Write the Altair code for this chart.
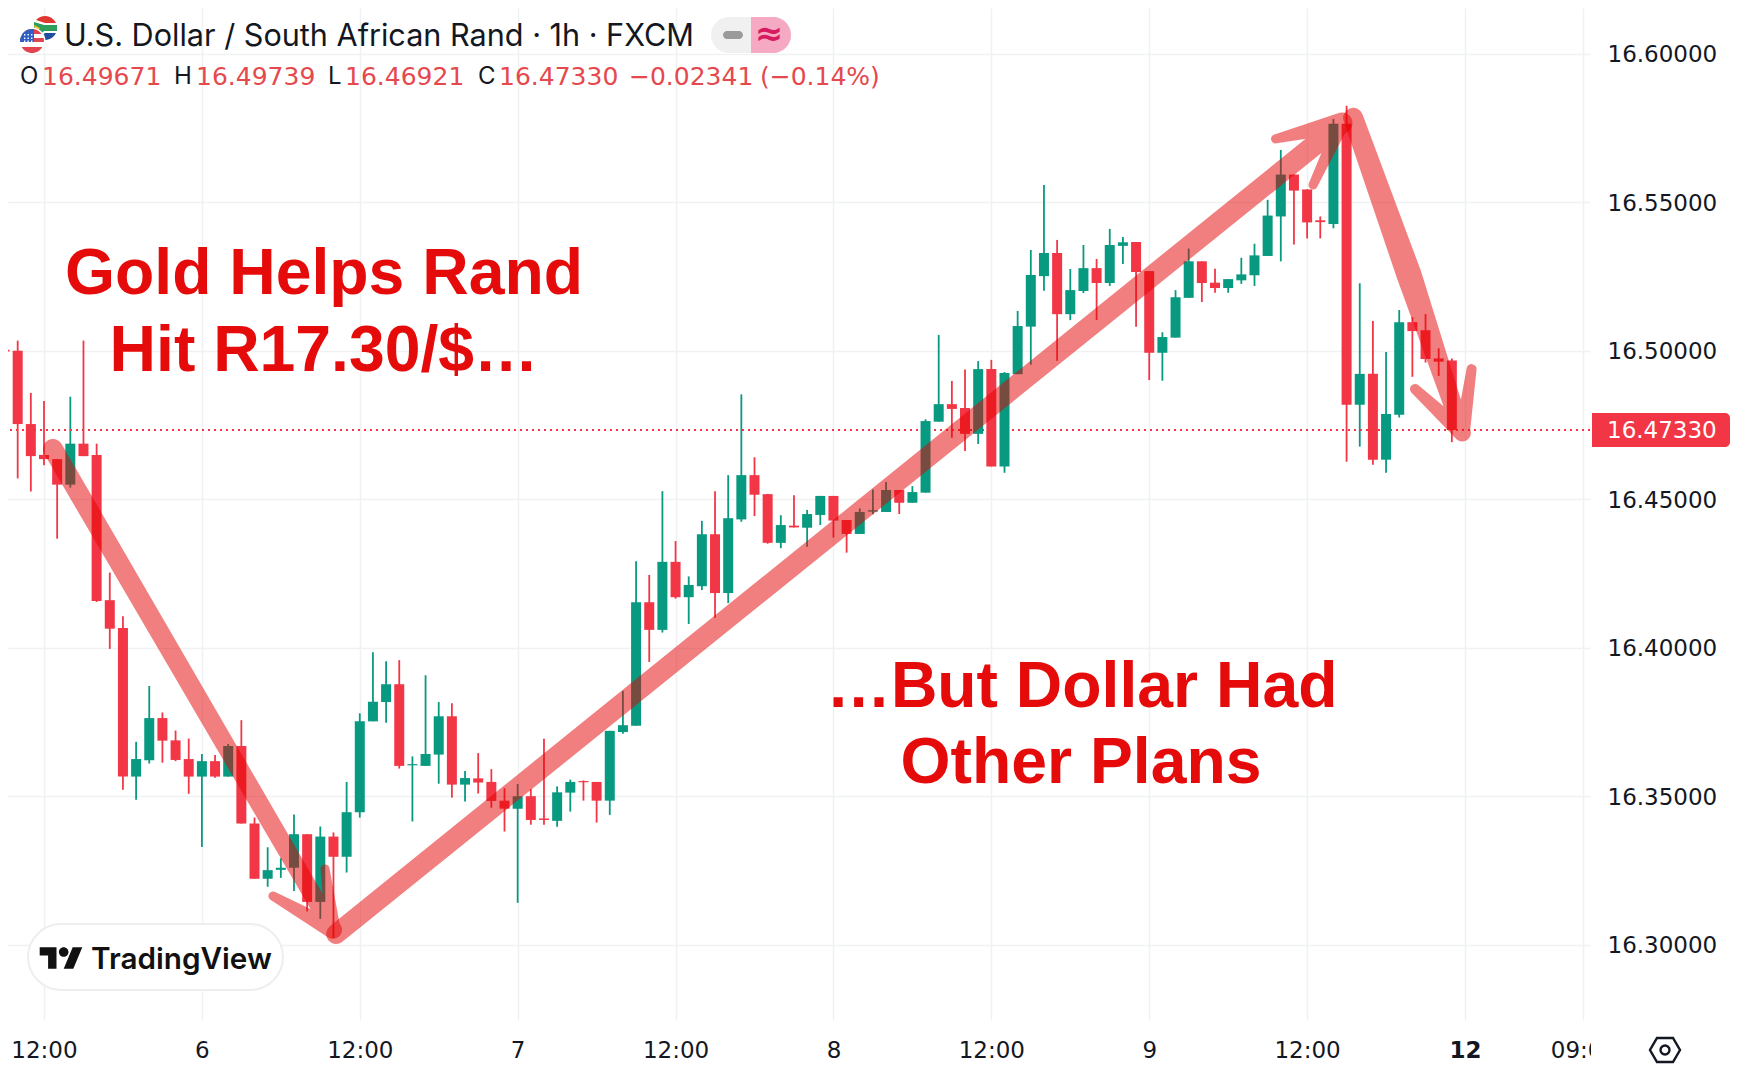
import json, math
import altair as alt
import pandas as pd

# ---------- candle values (hour index -3 .. 107) ----------
directions = ("RRRRRGRRRRGGRRRGRGRRGGGRGRGGGGR" "GGGRGRRRGRRGGRRGGGRGRGGRGGRRGRG"
              "GRRGGGRGGGRRGRGGGGRGGRGGRRGGGRRGGGGGRRRGRGRGGRRRR")
highs = [16.5076,16.5034,16.4858,16.4831,16.4635,16.4845,16.5034,16.4687,16.4253,16.4106,
         16.3683,16.3871,16.3782,16.3721,16.3694,16.3642,16.3639,16.3676,16.3756,16.3428,
         16.3328,16.3291,16.3438,16.3372,16.3398,16.3378,16.3548,16.3779,16.3985,16.3954,
         16.3958,16.3634,16.3907,16.3817,16.3813,16.3585,16.3645,16.3591,16.3527,16.3541,
         16.3524,16.3693,16.3533,16.3556,16.3553,16.3548,16.3720,16.3854,16.4291,16.4245,
         16.4527,16.4359,16.4240,16.4427,16.4527,16.4581,16.4853,16.4641,16.4518,16.4446,
         16.4513,16.4464,16.4511,16.4511,16.4430,16.4469,16.4533,16.4558,16.4531,16.4544,
         16.4769,16.5053,16.4898,16.4937,16.4965,16.4969,16.4928,16.5134,16.5339,16.5558,
         16.5373,16.5275,16.5356,16.5309,16.5410,16.5383,16.5366,16.5268,16.5062,16.5204,
         16.5344,16.5301,16.5276,16.5241,16.5313,16.5360,16.5508,16.5676,16.5593,16.5543,
         16.5452,16.5780,16.5825,16.5227,16.5100,16.4996,16.5137,16.5113,16.5123,16.5008,16.49739]
body_tops = [16.5003,16.5000,16.4753,16.4649,16.4635,16.4687,16.4687,16.4649,16.4160,16.4066,
             16.3625,16.3763,16.3763,16.3688,16.3625,16.3618,16.3618,16.3669,16.3669,16.3408,
             16.3251,16.3259,16.3372,16.3372,16.3364,16.3364,16.3446,16.3752,16.3818,16.3877,
             16.3877,16.3608,16.3642,16.3769,16.3769,16.3561,16.3560,16.3548,16.3485,16.3500,
             16.3500,16.3425,16.3513,16.3548,16.3551,16.3548,16.3720,16.3739,16.4153,16.4153,
             16.4289,16.4289,16.4211,16.4382,16.4382,16.4436,16.4581,16.4581,16.4517,16.4413,
             16.4411,16.4450,16.4511,16.4511,16.4430,16.4457,16.4463,16.4531,16.4531,16.4524,
             16.4763,16.4820,16.4820,16.4807,16.4938,16.4938,16.4925,16.5083,16.5255,16.5329,
             16.5329,16.5204,16.5278,16.5278,16.5356,16.5365,16.5366,16.5268,16.5046,16.5180,
             16.5301,16.5301,16.5229,16.5241,16.5257,16.5321,16.5455,16.5593,16.5593,16.5543,
             16.5439,16.5764,16.5764,16.4922,16.4922,16.4787,16.5096,16.5096,16.5069,16.4974,16.49671]
body_bottoms = [16.4997,16.4753,16.4645,16.4635,16.4549,16.4549,16.4645,16.4157,16.4064,16.3566,
                16.3566,16.3621,16.3687,16.3622,16.3566,16.3566,16.3566,16.3566,16.3408,16.3222,
                16.3222,16.3252,16.3259,16.3144,16.3144,16.3296,16.3296,16.3446,16.3752,16.3817,
                16.3602,16.3604,16.3602,16.3640,16.3539,16.3539,16.3546,16.3484,16.3458,16.3458,
                16.3420,16.3420,16.3417,16.3512,16.3547,16.3485,16.3485,16.3716,16.3737,16.4060,
                16.4060,16.4170,16.4170,16.4207,16.4184,16.4184,16.4432,16.4515,16.4353,16.4353,
                16.4405,16.4404,16.4447,16.4428,16.4383,16.4383,16.4458,16.4457,16.4488,16.4488,
                16.4522,16.4761,16.4804,16.4720,16.4720,16.4610,16.4610,16.4921,16.5081,16.5251,
                16.5123,16.5123,16.5201,16.5228,16.5228,16.5353,16.5265,16.4993,16.4993,16.5044,
                16.5178,16.5228,16.5211,16.5211,16.5237,16.5254,16.5319,16.5452,16.5539,16.5432,
                16.5433,16.5427,16.4818,16.4818,16.4633,16.4633,16.4784,16.5066,16.4972,16.4963,16.47330]
lows = [16.4735,16.4570,16.4526,16.4614,16.4367,16.4539,16.4645,16.4154,16.3996,16.3522,
        16.3488,16.3610,16.3613,16.3618,16.3508,16.3329,16.3562,16.3566,16.3408,16.3222,
        16.3195,16.3225,16.3181,16.3112,16.3087,16.3023,16.3243,16.3428,16.3752,16.3747,
        16.3593,16.3415,16.3602,16.3542,16.3495,16.3482,16.3509,16.3461,16.3381,16.3141,
        16.3404,16.3404,16.3397,16.3448,16.3485,16.3411,16.3437,16.3710,16.3737,16.3952,
        16.4051,16.4165,16.4080,16.4194,16.4101,16.4150,16.4424,16.4443,16.4350,16.4335,
        16.4405,16.4340,16.4413,16.4371,16.4320,16.4383,16.4449,16.4457,16.4450,16.4488,
        16.4522,16.4761,16.4707,16.4662,16.4686,16.4610,16.4589,16.4921,16.4953,16.5202,
        16.4966,16.5103,16.5194,16.5103,16.5218,16.5292,16.5081,16.4901,16.4899,16.5044,
        16.5178,16.5164,16.5195,16.5195,16.5225,16.5218,16.5319,16.5301,16.5358,16.5378,
        16.5378,16.5412,16.4626,16.4677,16.4616,16.4589,16.4775,16.4912,16.4960,16.4915,16.46921]
bar_index = list(range(-3, 108))

price_ticks = [16.30, 16.35, 16.40, 16.45, 16.50, 16.55, 16.60]
time_ticks = [0, 12, 24, 36, 48, 60, 72, 84, 96, 108, 117]
time_labels = ["12:00", "6", "12:00", "7", "12:00", "8", "12:00", "9", "12:00", "12", "09:00"]
last_price = 16.47330

arrow_names = ["a"]*5 + ["b"]*5 + ["c"]*6
arrow_steps = list(range(5))*2 + list(range(6))
arrow_idx = [0.68, 21.97, 17.4, 21.97, 21.36,
             22.2, 98.65, 93.6, 98.65, 96.45,
             99.5, 103.75, 107.8, 104.2, 107.8, 108.5]
arrow_price = [16.4669, 16.3050, 16.3164, 16.3050, 16.3255,
               16.3036, 16.5767, 16.5713, 16.5767, 16.5558,
               16.5784, 16.5255, 16.4723, 16.4871, 16.4723, 16.4938]
arrow_width = [20, 18, 9, 15, 9,
               20, 21, 9, 15, 9,
               20, 25, 17, 10, 15, 10]

headline_rows = [("Gold Helps Rand", 324, 274.5), ("Hit R17.30/$…", 324, 351.5),
                 ("…But Dollar Had", 1082, 687.5), ("Other Plans", 1081, 763.5)]
title_text = "U.S. Dollar / South African Rand · 1h · FXCM"
ohlc_black = [("O", 20), ("H", 174), ("L", 328), ("C", 478)]
ohlc_red = [("16.49671", 42), ("16.49739", 196), ("16.46921", 345), ("16.47330", 499),
            ("−0.02341", 629), ("(−0.14%)", 760)]

# ---------- frame ----------
PLOT_W, PLOT_H = 1582, 1012
GREEN, RED = "#089981", "#F23645"
INK = "#131722"
GRID = "#F0F1F3"
UI_FONT = "Inter"
NUM_FONT = "DejaVu Sans"
TICK_SIZE = 23

x_scale = alt.Scale(domain=[-2.736, 117.5], nice=False, zero=False, padding=0)
y_scale = alt.Scale(domain=[16.27464, 16.61539], nice=False, zero=False, padding=0)

candles = pd.DataFrame({"i": bar_index, "high": highs, "low": lows, "top": body_tops,
                        "bottom": body_bottoms, "dir": list(directions)})
one = pd.DataFrame({"v": [0]})

label_expr = ("%s[indexof(%s, datum.value)]" % (json.dumps(time_labels), json.dumps(time_ticks)))
x_axis = alt.Axis(values=time_ticks, labelExpr=label_expr, title=None, grid=True, gridColor=GRID,
                  gridWidth=1.5, domain=False, ticks=False, labelFont=NUM_FONT, labelFontSize=TICK_SIZE,
                  labelColor=INK, labelPadding=19, labelAngle=0, labelOverlap=False, labelBound=False,
                  labelFlush=False, labelFontWeight=alt.expr("datum.value == 108 ? 700 : 400"))
y_axis = alt.Axis(values=price_ticks, format=".5f", title=None, orient="right", grid=True, gridColor=GRID,
                  gridWidth=1.5, domain=False, ticks=False, labelFont=NUM_FONT, labelFontSize=TICK_SIZE,
                  labelColor=INK, labelPadding=17, labelOffset=1, labelOverlap=False, labelBound=False,
                  labelFlush=False)
color = alt.Color("dir:N", scale=alt.Scale(domain=["G", "R"], range=[GREEN, RED]), legend=None)

wicks = alt.Chart(candles).mark_rule(strokeWidth=1.8).encode(
    x=alt.X("i:Q", scale=x_scale, axis=x_axis),
    y=alt.Y("low:Q", scale=y_scale, axis=y_axis),
    y2="high:Q", color=color)
bodies = alt.Chart(candles).mark_bar(size=10, orient="vertical").encode(
    x=alt.X("i:Q", scale=x_scale), y=alt.Y("bottom:Q", scale=y_scale), y2="top:Q", color=color)
last_line = alt.Chart(pd.DataFrame({"p": [last_price]})).mark_rule(
    color=RED, strokeWidth=2, strokeDash=[2, 4]).encode(y=alt.Y("p:Q", scale=y_scale))

arrows_df = pd.DataFrame({"name": arrow_names, "step": arrow_steps, "i": arrow_idx,
                          "p": arrow_price, "w": arrow_width})
arrows = alt.Chart(arrows_df).mark_trail(color="#E60000", opacity=0.5).encode(
    x=alt.X("i:Q", scale=x_scale), y=alt.Y("p:Q", scale=y_scale),
    detail="name:N", order="step:Q", size=alt.Size("w:Q", scale=None, legend=None))

def text(s, x, y, size, col, weight=400, font=UI_FONT, align="left"):
    return alt.Chart(one).mark_text(text=s, align=align, baseline="middle", font=font, fontSize=size,
                                    fontWeight=weight, color=col).encode(
        x=alt.value(x - 8), y=alt.value(y - 8))

def box(x, x2, y, y2, **kw):
    return alt.Chart(one).mark_rect(**kw).encode(
        x=alt.value(x - 8), x2=alt.value(x2 - 8), y=alt.value(y - 8), y2=alt.value(y2 - 8))

def icon(path, x, y, col, size=4.0, **kw):
    return alt.Chart(one).mark_point(shape=path, size=size, filled=True, color=col, opacity=1, **kw).encode(
        x=alt.value(x - 8), y=alt.value(y - 8))

def chord(r, y1, y2):
    a = math.sqrt(max(r*r - y1*y1, 0)); b = math.sqrt(max(r*r - y2*y2, 0))
    return f"M{-a:.2f} {y1} L{a:.2f} {y1} A{r} {r} 0 0 1 {b:.2f} {y2} L{-b:.2f} {y2} A{r} {r} 0 0 1 {-a:.2f} {y1} Z"

SA = (45, 28); US = (32, 41)
flag_layers = [
    icon(chord(12, -12, 0), SA[0], SA[1], "#DE3831"),
    icon(chord(12, 0, 12), SA[0], SA[1], "#1F4EA1"),
    icon("M-12 -9 L0 -5 L12 -5 L12 5 L0 5 L-8 11 L-12 4 Z", SA[0], SA[1], "#FFFFFF"),
    icon("M-11 -6 L-1 -3 L12 -3 L12 3 L-1 3 L-6 8 L-11 1 Z", SA[0], SA[1], "#2E9E5B"),
    icon("M-11 -3 L-5 0 L-9 5 Z", SA[0], SA[1], "#F2C230"),
    icon("M-13.5 0 A13.5 13.5 0 1 1 13.5 0 A13.5 13.5 0 1 1 -13.5 0 Z", US[0], US[1], "#FFFFFF"),
    icon(chord(12, -12, -7), US[0], US[1], "#E0454F"),
    icon(chord(12, -3, 1), US[0], US[1], "#E0454F"),
    icon(chord(12, 6, 12), US[0], US[1], "#E0454F"),
    icon("M2 1 L-11.96 1 A12 12 0 0 1 2 -11.83 Z", US[0], US[1], "#2F5FC4"),
    icon("".join(f"M{dx} {dy}h1.4v1.4h-1.4z" for dx in (-8, -4.5, -1) for dy in (-7, -3.5, -0.5)),
         US[0], US[1], "#FFFFFF"),
]

TV_MARK = ("M-3.75 9 H-10.75 V-2 H-17.75 V-9 H-3.75 Z "
           "M10.25 9 H2.25 L9.75 -9 H17.75 Z "
           "M-1.75 -5 a4 4 0 1 0 8 0 a4 4 0 1 0 -8 0 Z")
HEX = "M-8 -12 L8 -12 L15 0 L8 12 L-8 12 L-15 0 Z"
DOT = "M-4.5 0 a4.5 4.5 0 1 0 9 0 a4.5 4.5 0 1 0 -9 0 Z"

ui = [
    *flag_layers,
    text(title_text, 64, 37, 30.6, INK),
    box(711, 791, 17, 53, color="#F0F0F0", cornerRadius=18),
    box(751, 791, 17, 53, color="#F6A9C2", cornerRadiusTopRight=18, cornerRadiusBottomRight=18),
    box(723, 743, 31, 39, color="#9A9A9A", cornerRadius=4),
    text("≈", 769, 35, 34, "#D81B60", weight=700, font="DejaVu Sans", align="center"),
    *[text(s, x, 77, 24, INK) for s, x in ohlc_black],
    *[text(s, x, 77, 25, "#E5484D", font=NUM_FONT) for s, x in ohlc_red],
    *[text(s, x, y, 64.3, "#E60B0B", weight=700, font="Liberation Sans", align="center")
      for s, x, y in headline_rows],
    box(28, 283, 924, 990, color="#FFFFFF", stroke="#EEEEEE", strokeWidth=2, cornerRadius=33),
    icon(TV_MARK, 61, 958, "#111111", size=5.76),
    text("TradingView", 91, 959.5, 29.7, "#111111", weight=600),
    box(1591, 1625, 1030, 1064, color="#FFFFFF"),
    box(1592, 1730, 413, 447, color=RED, cornerRadiusTopRight=5, cornerRadiusBottomRight=5),
    text("16.47330", 1607, 430.5, TICK_SIZE, "#FFFFFF", font=NUM_FONT),
    alt.Chart(one).mark_point(shape=HEX, size=4, filled=False, color="#131722", strokeWidth=2.4, opacity=1).encode(
        x=alt.value(1665 - 8), y=alt.value(1050 - 8)),
    alt.Chart(one).mark_point(shape=DOT, size=4, filled=False, color="#131722", strokeWidth=2.4, opacity=1).encode(
        x=alt.value(1665 - 8), y=alt.value(1050 - 8)),
]

chart = alt.layer(wicks, last_line, bodies, arrows, *ui).properties(
    width=PLOT_W, height=PLOT_H,
    autosize=alt.AutoSizeParams(type="none"),
    padding={"left": 0, "top": 0, "right": 142, "bottom": 44},
    background="#FFFFFF",
).configure_view(stroke=None)

chart.save("out.html", embed_options={"renderer": "svg", "actions": False})
